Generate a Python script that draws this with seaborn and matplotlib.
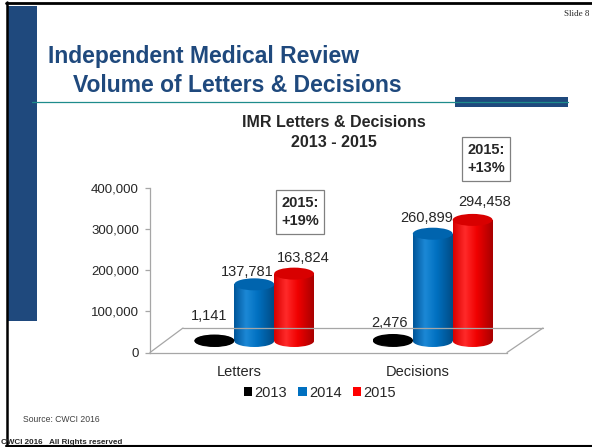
import matplotlib
matplotlib.use("Agg")
import matplotlib.pyplot as plt
import matplotlib.transforms as mtransforms
from matplotlib.patches import Rectangle, Ellipse, Patch
from matplotlib.lines import Line2D
from matplotlib.colors import LinearSegmentedColormap
import numpy as np
import pandas as pd
import seaborn as sns

# data
categories = ["Letters", "Decisions"]
years = ["2013", "2014", "2015"]
vals_2013 = [1141, 2476]
vals_2014 = [137781, 260899]
vals_2015 = [163824, 294458]
yticks = [0, 100000, 200000, 300000, 400000]
growth_notes = ["2015:\n+19%", "2015:\n+13%"]

df = pd.DataFrame({
    "kind": categories * 3,
    "year": [y for y in years for _ in categories],
    "count": vals_2013 + vals_2014 + vals_2015,
})

sns.set_style("white")
plt.rcParams["font.family"] = ["Liberation Sans", "DejaVu Sans"]

W, H = 592, 447
def fx(x):
    return x / W
def fy(y):
    return 1 - y / H

palette = {"2013": "#000000", "2014": "#0070C0", "2015": "#FF0000"}
# left edge, highlight, mid, right edge
shades = {
    "2013": ["#000000", "#1a1a1a", "#000000", "#000000"],
    "2014": ["#00569A", "#1C88D6", "#0070C0", "#004C86"],
    "2015": ["#D80000", "#FF2A2A", "#F00000", "#A80000"],
}
tops = {"2013": "#000000", "2014": "#0064AE", "2015": "#D80000"}

fig = plt.figure(figsize=(5.92, 4.47), dpi=100)

# slide decoration
fig.add_artist(Rectangle((fx(8), fy(321)), fx(37) - fx(8), fy(6) - fy(321),
                         transform=fig.transFigure, color="#1F497D", lw=0))
fig.add_artist(Line2D([fx(32), fx(568)], [fy(101.5), fy(101.5)],
                      transform=fig.transFigure, color="#1E8C8C", lw=0.9))
fig.add_artist(Rectangle((fx(455), fy(107)), fx(568) - fx(455), fy(97) - fy(107),
                         transform=fig.transFigure, color="#1F497D", lw=0))
fig.add_artist(Line2D([fx(7), fx(7)], [fy(2), fy(446)],
                      transform=fig.transFigure, color="black", lw=1.8))
fig.add_artist(Line2D([fx(6), fx(592)], [fy(3), fy(3)],
                      transform=fig.transFigure, color="black", lw=2))
fig.add_artist(Line2D([fx(6), fx(592)], [fy(446), fy(446)],
                      transform=fig.transFigure, color="black", lw=1.5))

fig.text(fx(589), fy(14), "Slide 8", ha="right", va="center", fontsize=6.5,
         family="Liberation Serif")
fig.text(fx(48), fy(63), "Independent Medical Review", ha="left", va="baseline",
         fontsize=16.5, fontweight="bold", color="#1F497D")
fig.text(fx(73), fy(92), "Volume of Letters & Decisions", ha="left", va="baseline",
         fontsize=16.5, fontweight="bold", color="#1F497D")
fig.text(fx(334), fy(127), "IMR Letters & Decisions", ha="center", va="baseline",
         fontsize=11.5, fontweight="bold")
fig.text(fx(334), fy(147), "2013 - 2015", ha="center", va="baseline",
         fontsize=11.5, fontweight="bold")
fig.text(fx(23), fy(419), "Source: CWCI 2016", ha="left", va="center",
         fontsize=6.2, color="#404040")
fig.text(fx(1), fy(442), "CWCI 2016   All Rights reserved", ha="left", va="center",
         fontsize=5.8, fontweight="bold")

# chart
ax = fig.add_axes([fx(150), fy(352.5), fx(507) - fx(150), fy(188) - fy(352.5)])
sns.barplot(data=df, x="kind", y="count", hue="year", order=categories,
            hue_order=years, palette=palette, width=0.67, saturation=1,
            ax=ax, legend=False)

ax.set_xlim(-0.5, 1.5)
ax.set_ylim(0, 400000)
grey = "#A6A6A6"
for s in ["top", "right"]:
    ax.spines[s].set_visible(False)
for s in ["left", "bottom"]:
    ax.spines[s].set_color(grey)
    ax.spines[s].set_linewidth(0.9)
ax.set_yticks(yticks)
ax.set_yticklabels([f"{v:,}" for v in yticks], fontsize=9.5)
ax.set_xticks([0, 1])
ax.set_xticklabels(categories, fontsize=10.5)
ax.set_xticks([-0.5, 0.5, 1.5], minor=True)
ax.tick_params(axis="x", which="major", length=0, pad=9)
ax.tick_params(axis="x", which="minor", length=5, color=grey, width=0.9)
ax.tick_params(axis="y", length=3.5, color=grey, width=0.9, pad=4.5, left=True)
ax.set_xlabel("")
ax.set_ylabel("")

# 3d floor
fig.canvas.draw()
depth_dx, depth_dy = 35, 24.5
fl = ax.transAxes.transform((0, 0))
fr = ax.transAxes.transform((1, 0))
bl = fl + np.array([depth_dx - 2, depth_dy])
br = fr + np.array([depth_dx + 1, depth_dy])
for a, b in [(fl, bl), (bl, br), (br, fr)]:
    fig.add_artist(Line2D([a[0], b[0]], [a[1], b[1]],
                          transform=mtransforms.IdentityTransform(),
                          color=grey, lw=0.9))

# cylinders
shift_x, shift_y = 15, 11.5
bar_tr = mtransforms.offset_copy(ax.transData, fig, x=shift_x, y=shift_y, units="dots")
units_per_px = 400000 / ax.bbox.height
eh = 12 * units_per_px

def year_of(color):
    best, dist = None, 9
    for y, c in palette.items():
        d = np.sum((np.array(matplotlib.colors.to_rgb(c)) - np.array(color[:3])) ** 2)
        if d < dist:
            best, dist = y, d
    return best

bars = []
for p in list(ax.patches):
    bars.append((p.get_x(), p.get_width(), p.get_height(), year_of(p.get_facecolor())))
    p.set_visible(False)
bars.sort(key=lambda b: b[0])

grad = np.linspace(0, 1, 80)[None, :]
for x0, w, h, yr in bars:
    cmap = LinearSegmentedColormap.from_list(
        "cyl" + yr, list(zip([0, 0.3, 0.6, 1], shades[yr])))
    cx = x0 + w / 2
    body = Rectangle((x0, 0), w, h, transform=bar_tr)
    base = Ellipse((cx, 0), w, eh, transform=bar_tr)
    for clip in (body, base):
        im = ax.imshow(grad, cmap=cmap, extent=[x0, x0 + w, -eh, h + eh],
                       transform=bar_tr, aspect="auto", zorder=3,
                       interpolation="bilinear")
        im.set_clip_path(clip)
    ax.add_patch(Ellipse((cx, h), w, eh, transform=bar_tr,
                         facecolor=tops[yr], edgecolor="none", zorder=4))

ax.set_xlim(-0.5, 1.5)
ax.set_ylim(0, 400000)

# value labels (pixel nudges)
nudges = {
    ("2013", 0): (-5, 25), ("2014", 0): (-7, 12), ("2015", 0): (9, 15.5),
    ("2013", 1): (-3, 17), ("2014", 1): (-6, 15.5), ("2015", 1): (12, 17.5),
}
series = {"2013": vals_2013, "2014": vals_2014, "2015": vals_2015}
for x0, w, h, yr in bars:
    ci = int(round(x0 + w / 2))
    dx, dy = nudges[(yr, ci)]
    tr = mtransforms.offset_copy(ax.transData, fig, x=shift_x + dx,
                                 y=shift_y + dy, units="dots")
    ax.text(x0 + w / 2, series[yr][ci], f"{series[yr][ci]:,}", transform=tr,
            ha="center", va="center", fontsize=10.5, zorder=5, clip_on=False)

# growth boxes
for (bx, by), note in zip([(300, 212), (486, 159)], growth_notes):
    fig.text(fx(bx), fy(by), note, ha="center", va="center", fontsize=10.5,
             fontweight="bold", linespacing=1.45,
             bbox=dict(boxstyle="square,pad=0.35", fc="white", ec="#808080", lw=0.9))

# legend
handles = [Patch(facecolor=palette[y], edgecolor="none", label=y) for y in years]
fig.legend(handles=handles, loc="center", bbox_to_anchor=(fx(320), fy(393)),
           ncol=3, frameon=False, fontsize=10.5, handlelength=0.6,
           handleheight=0.6, handletextpad=0.15, columnspacing=0.75)

fig.savefig("out.png", dpi=100)
